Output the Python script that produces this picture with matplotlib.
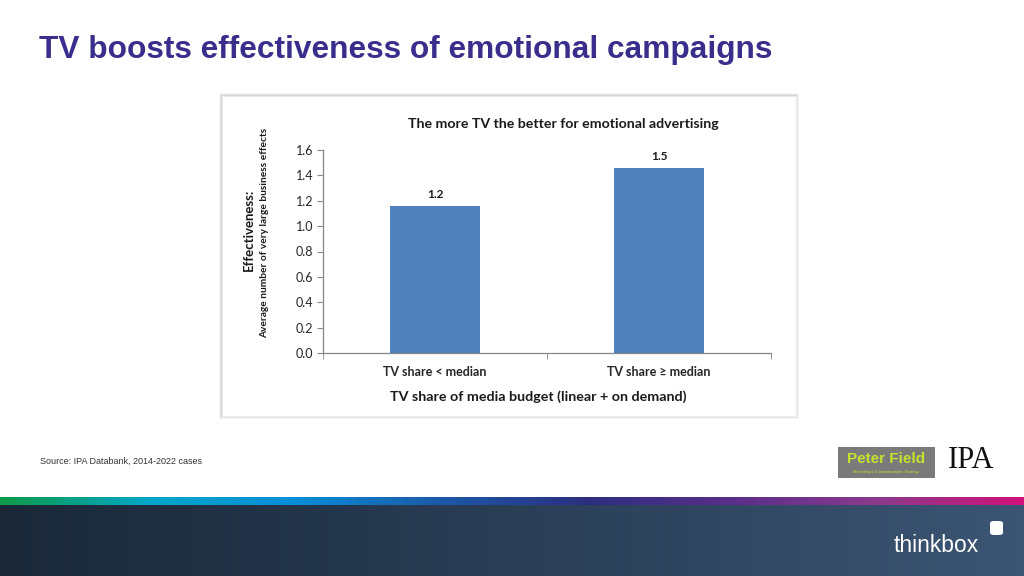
import numpy as np
import matplotlib.pyplot as plt
from matplotlib.patches import Rectangle, FancyBboxPatch
from matplotlib.colors import LinearSegmentedColormap

# data
categories = ["TV share < median", "TV share \u2265 median"]
effectiveness = [1.16, 1.46]
value_labels = ["1.2", "1.5"]
y_ticks = [0.0, 0.2, 0.4, 0.6, 0.8, 1.0, 1.2, 1.4, 1.6]

W, H = 1024, 576
fig = plt.figure(figsize=(W / 100, H / 100), dpi=100)
fig.patch.set_facecolor("white")


def fx(px):
    return px / W


def fy(py):
    return 1 - py / H


# slide title
fig.text(fx(39), fy(50), "TV boosts effectiveness of emotional campaigns",
         family="Liberation Sans", weight="bold", fontsize=22.8,
         color="#3A2E8C", va="center", ha="left")

# chart panel with soft shadow
for i, a in enumerate([0.04, 0.06, 0.08]):
    d = 3 - i
    fig.patches.append(Rectangle((fx(222 - d), fy(416 + d)), fx(574 + 2 * d), (320 + 2 * d) / H,
                                 transform=fig.transFigure, facecolor="#000000",
                                 alpha=a, edgecolor="none", zorder=0))
fig.patches.append(Rectangle((fx(222), fy(416)), fx(574), 320 / H,
                             transform=fig.transFigure, facecolor="white",
                             edgecolor="#EBEBEB", lw=0.8, zorder=1))

cfont = "Lato"
ax = fig.add_axes([fx(323), fy(353), fx(448), (353 - 150) / H])
ax.set_zorder(2)
ax.patch.set_alpha(0)
x = np.arange(len(categories))
ax.bar(x, effectiveness, width=0.40, color="#4F81BD", zorder=3)
for xi, v, lab in zip(x, effectiveness, value_labels):
    ax.text(xi, v + 0.045, lab, ha="center", va="bottom", fontsize=8.5,
            weight="bold", family=cfont, color="#1A1A1A")

ax.set_xlim(-0.5, 1.5)
ax.set_ylim(0, 1.6)
ax.set_yticks(y_ticks)
ax.set_yticklabels([f"{t:.1f}" for t in y_ticks], family=cfont, fontsize=9, color="#262626")
ax.set_xticks(x)
ax.set_xticklabels(categories, family=cfont, fontsize=9, weight="bold", color="#262626")
ax.set_xticks([-0.5, 0.5, 1.5], minor=True)
ax.tick_params(axis="x", which="major", length=0, pad=9)
ax.tick_params(axis="x", which="minor", length=4, color="#868686", direction="out")
ax.tick_params(axis="y", length=4, color="#868686", direction="out", pad=3)
for s in ["top", "right"]:
    ax.spines[s].set_visible(False)
for s in ["left", "bottom"]:
    ax.spines[s].set_color("#868686")
    ax.spines[s].set_linewidth(0.9)

fig.text(fx(538), fy(397), "TV share of media budget (linear + on demand)",
         family=cfont, fontsize=10.3, weight="bold", color="#1A1A1A",
         ha="center", va="center", zorder=5)
fig.text(fx(563), fy(124), "The more TV the better for emotional advertising",
         family=cfont, fontsize=10.2, weight="bold", color="#1A1A1A",
         ha="center", va="center", zorder=5)
fig.text(fx(249), fy(230), "Effectiveness:", family=cfont, fontsize=9.5,
         weight="bold", rotation=90, ha="center", va="center", color="#1A1A1A")
fig.text(fx(265), fy(233), "Average number of very large business effects",
         family=cfont, fontsize=7.3, weight="bold", rotation=90,
         ha="center", va="center", color="#1A1A1A")

# source line
fig.text(fx(40), fy(461), "Source: IPA Databank, 2014-2022 cases",
         family="Liberation Sans", fontsize=6.5, color="#333333",
         ha="left", va="center")

# logos
fig.patches.append(Rectangle((fx(838), fy(478)), fx(97), 31 / H,
                             transform=fig.transFigure, facecolor="#7A7A7A",
                             edgecolor="none", zorder=1))
fig.text(fx(886), fy(459), "Peter Field", family="Liberation Sans", weight="bold",
         fontsize=11, color="#C6E22F", ha="center", va="center")
fig.text(fx(886), fy(472), "Marketing & Communications Strategy", family="Liberation Sans",
         fontsize=2.8, color="#C6E22F", ha="center", va="center")
fig.text(fx(971), fy(461), "IPA", family="Liberation Serif", fontsize=22,
         color="#111111", ha="center", va="center")

# footer band
ax_f = fig.add_axes([0, 0, 1, 71 / H])
band = LinearSegmentedColormap.from_list("band", ["#1A2838", "#2A3E56", "#3B5573"])
ax_f.imshow(np.linspace(0, 1, 256)[None, :], cmap=band, aspect="auto",
            extent=[0, 1, 0, 1])
ax_f.set_axis_off()

ax_s = fig.add_axes([0, 71 / H, 1, 8 / H])
stripe = LinearSegmentedColormap.from_list(
    "stripe", ["#0E9A48", "#06A6C8", "#0A8ED8", "#1B5AA8", "#2C2F80", "#5A2E8A", "#8A3A8C", "#D0127A"])
ax_s.imshow(np.linspace(0, 1, 256)[None, :], cmap=stripe, aspect="auto",
            extent=[0, 1, 0, 1])
ax_s.set_axis_off()

fig.text(fx(936), fy(546), "thinkbox", family="Liberation Sans", fontsize=16.5,
         color="white", ha="center", va="center")
fig.patches.append(FancyBboxPatch((fx(990), fy(535)), fx(13), 14 / H,
                                  boxstyle="round,pad=0,rounding_size=0.004",
                                  transform=fig.transFigure, facecolor="white",
                                  edgecolor="none", zorder=5))

fig.savefig("out.png", dpi=100)
